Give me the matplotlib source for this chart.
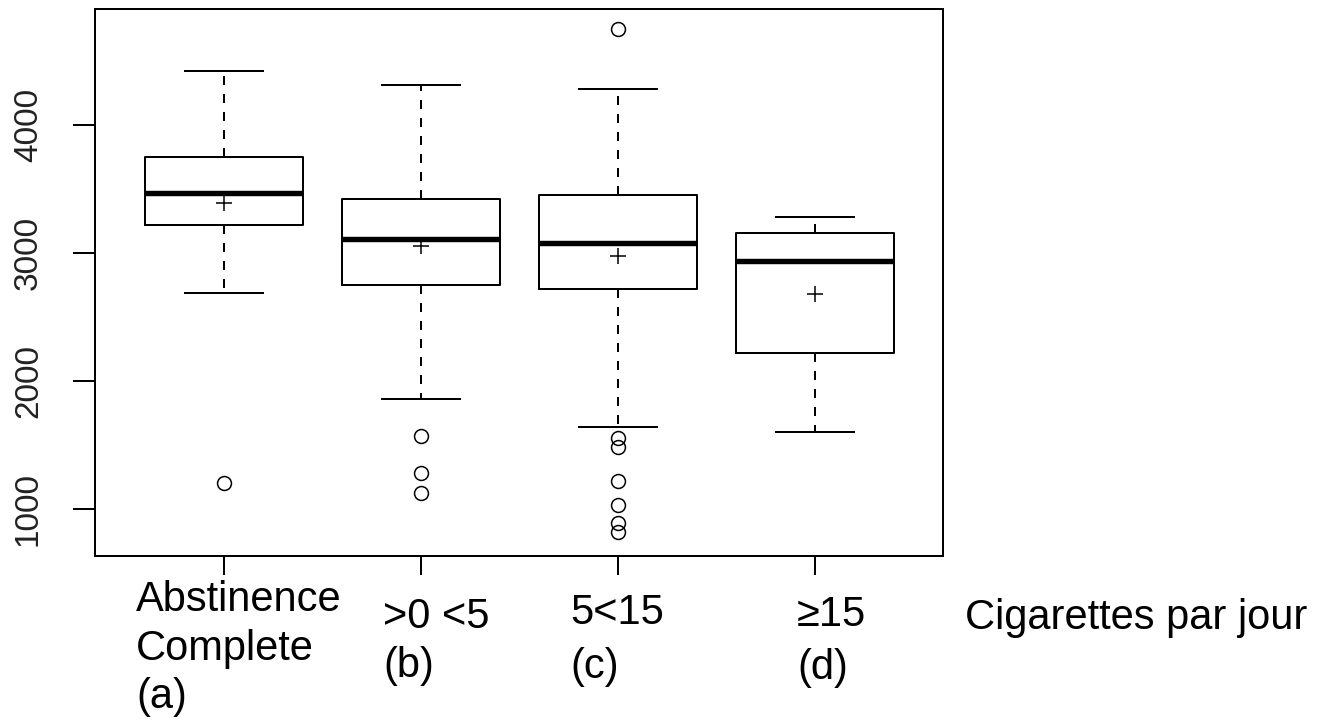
import matplotlib
matplotlib.use("Agg")
import matplotlib.pyplot as plt
from matplotlib import font_manager
from matplotlib.transforms import blended_transform_factory

# ---- data ----
groups = ["Abstinence\nComplete\n(a)", ">0 <5\n(b)", "5<15\n(c)", "\u226515\n(d)"]
axis_title = "Cigarettes par jour"
whishi = [4421, 4312, 4281, 3279]
q3 = [3748, 3420, 3454, 3155]
medians = [3467, 3108, 3077, 2938]
means = [3389, 3055, 2977, 2681]
q1 = [3217, 2751, 2717, 2222]
whislo = [2686, 1861, 1640, 1606]
fliers = [
    [1203],
    [1575, 1281, 1125],
    [4747, 1554, 1489, 1221, 1034, 891, 825],
    [],
]
yticks = [1000, 2000, 3000, 4000]

# ---- fonts ----
names = {f.name for f in font_manager.fontManager.ttflist}
main_font = "Liberation Sans" if "Liberation Sans" in names else "DejaVu Sans"
narrow = "Liberation Sans Narrow" in names
tick_font = "Liberation Sans Narrow" if narrow else main_font
tick_size = 28 if narrow else 24

W, H = 1326, 724
fig = plt.figure(figsize=(W / 100, H / 100), dpi=100)
left_px, right_px, top_px, bottom_px = 95, 943, 8.5, 555.5
ax = fig.add_axes([left_px / W, 1 - bottom_px / H,
                   (right_px - left_px) / W, (bottom_px - top_px) / H])

stats = []
for i in range(len(groups)):
    stats.append(dict(med=medians[i], q1=q1[i], q3=q3[i], whislo=whislo[i],
                      whishi=whishi[i], fliers=fliers[i], mean=means[i]))

positions = list(range(1, len(groups) + 1))
lw = 1.44
ax.bxp(stats, positions=positions, widths=0.8, capwidths=0.4,
       showmeans=True,
       boxprops=dict(color="black", linewidth=lw),
       medianprops=dict(color="black", linewidth=3.9, solid_capstyle="butt"),
       whiskerprops=dict(color="black", linewidth=lw, linestyle=(0, (4.5, 4.5))),
       capprops=dict(color="black", linewidth=lw),
       flierprops=dict(marker="o", markerfacecolor="none", markeredgecolor="black",
                       markersize=10, markeredgewidth=1.1, linestyle="none"),
       meanprops=dict(marker="+", markeredgecolor="black", markersize=12,
                      markeredgewidth=1.1, linestyle="none"))

ax.set_xlim(0.345, 4.65)
ax.set_ylim(639, 4907)
ax.set_yticks(yticks)
ax.set_yticklabels([str(v) for v in yticks], rotation=90, va="center",
                   fontsize=tick_size, family=tick_font, color="#222222")
ax.set_xticks(positions)
ax.set_xticklabels([""] * len(positions))
ax.tick_params(axis="y", length=15.8, width=lw, pad=21, color="black")
ax.tick_params(axis="x", length=13.7, width=lw, color="black")
for s in ax.spines.values():
    s.set_linewidth(lw)
    s.set_color("black")

# ---- category labels, placed line by line (left edge px, baseline px) ----
label_left_px = [136, 383, 570, 797]
label_baselines_px = [[611, 660, 708], [628, 677], [624, 678], [626, 679]]
tr = blended_transform_factory(ax.transData, fig.transFigure)
group_px = [224, 421, 618, 815]
px_per_unit = 197.0


def px_to_data(px):
    return 1 + (px - group_px[0]) / px_per_unit


for i, lab in enumerate(groups):
    lines = lab.split("\n")
    for j, line in enumerate(lines):
        ax.text(px_to_data(label_left_px[i]), 1 - label_baselines_px[i][j] / H, line,
                transform=tr, ha="left", va="baseline", fontsize=30,
                family=main_font, clip_on=False)

ax.text(px_to_data(965), 1 - 629 / H, axis_title, transform=tr, ha="left",
        va="baseline", fontsize=30, family=main_font, clip_on=False)

fig.savefig("out.png", dpi=100)
